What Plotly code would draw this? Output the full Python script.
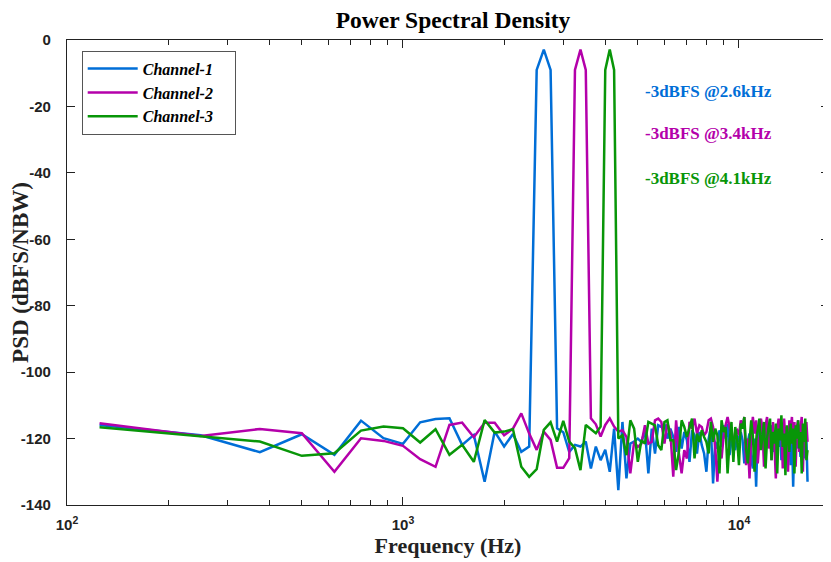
import plotly.graph_objects as go

# ---------------- data ----------------
bin_hz = 125
freqs = [bin_hz * k for k in range(1, 129)]

channel_1 = [
    -115.9, -119.0, -124.1, -118.7, -124.9, -114.6, -119.9, -121.6, -115.1, -114.1,
    -113.9, -121.9, -118.9, -133.0, -117.9, -122.4, -118.6, -124.0, -122.4, -9.0,
    -2.9, -9.0, -116.9, -118.1, -124.0, -121.9, -122.4, -120.9, -129.0, -122.4,
    -126.5, -123.4, -130.0, -117.0, -135.5, -115.0, -132.0, -121.5, -120.9, -120.0,
    -121.0, -117.5, -130.5, -117.0, -124.5, -116.0, -116.5, -115.5, -120.0, -117.0,
    -119.5, -124.0, -116.5, -123.0, -118.0, -120.5, -127.0, -117.5, -119.0, -124.5,
    -118.0, -122.0, -124.5, -130.0, -120.0, -116.5, -133.5, -121.0, -123.0, -117.5,
    -122.5, -116.0, -120.0, -115.5, -125.0, -120.5, -121.5, -123.5, -119.0, -121.0,
    -118.0, -120.5, -127.5, -122.0, -121.0, -118.5, -126.0, -129.0, -120.0, -134.5,
    -117.0, -121.5, -116.5, -119.0, -117.0, -115.5, -122.0, -120.5, -118.5, -116.0,
    -124.0, -119.5, -121.0, -117.5, -122.5, -115.5, -126.5, -121.0, -119.0, -124.5,
    -120.0, -122.0, -119.5, -128.0, -117.0, -134.5, -119.0, -121.5, -117.5, -123.0,
    -120.0, -125.5, -118.0, -121.5, -119.5, -126.0, -120.0, -133.0,
]

channel_2 = [
    -115.4, -119.2, -117.1, -118.4, -130.0, -119.9, -120.7, -122.2, -126.2, -128.5,
    -115.9, -115.2, -119.6, -115.2, -115.2, -119.0, -117.0, -112.4, -118.5, -123.4,
    -117.9, -120.4, -128.8, -128.8, -125.9, -9.0, -2.9, -9.0, -113.9, -115.7,
    -119.4, -115.9, -113.9, -116.4, -117.9, -117.5, -119.5, -130.5, -121.0, -122.5,
    -121.5, -116.0, -121.5, -121.0, -114.5, -114.0, -115.0, -121.5, -115.5, -118.0,
    -131.5, -114.5, -124.5, -130.5, -123.5, -126.0, -115.0, -117.0, -114.0, -118.5,
    -116.0, -116.5, -119.0, -118.0, -114.5, -114.0, -116.5, -122.5, -133.0, -123.0,
    -126.0, -119.5, -116.0, -113.5, -116.5, -119.5, -121.0, -118.0, -117.5, -119.0,
    -114.5, -116.5, -113.5, -128.0, -120.0, -132.0, -119.0, -113.5, -118.5, -114.5,
    -127.5, -120.5, -114.0, -117.0, -128.5, -116.0, -113.5, -123.0, -118.0, -126.5,
    -115.0, -121.5, -132.0, -117.0, -114.0, -119.5, -115.5, -129.0, -114.0, -120.5,
    -116.5, -130.0, -114.5, -118.0, -113.5, -122.0, -115.0, -128.5, -116.5, -114.5,
    -124.0, -117.0, -113.5, -130.0, -116.0, -119.5, -115.0, -121.0,
]

channel_3 = [
    -116.6, -119.4, -120.9, -125.2, -124.4, -117.6, -116.4, -116.9, -121.2, -117.2,
    -124.9, -121.9, -127.0, -114.4, -118.2, -117.9, -117.2, -128.5, -131.5, -129.2,
    -117.4, -115.1, -120.9, -114.7, -120.9, -122.9, -129.5, -115.9, -117.2, -118.4,
    -116.4, -9.0, -2.9, -9.0, -120.0, -119.0, -125.0, -114.5, -117.0, -127.0,
    -120.5, -121.5, -115.0, -115.5, -116.0, -122.0, -123.5, -115.0, -114.5, -120.5,
    -120.5, -129.5, -124.0, -114.5, -116.5, -119.5, -117.0, -114.0, -126.0, -118.5,
    -121.0, -117.5, -119.5, -121.0, -124.5, -115.0, -121.0, -117.0, -119.0, -130.5,
    -114.5, -118.0, -116.5, -130.5, -121.0, -115.0, -127.0, -116.5, -120.0, -128.0,
    -115.5, -117.0, -113.5, -123.0, -127.5, -120.5, -114.5, -119.0, -130.0, -120.5,
    -117.5, -114.0, -123.5, -118.5, -115.0, -129.0, -120.0, -116.5, -114.0, -126.5,
    -118.0, -121.5, -115.5, -130.5, -117.0, -120.5, -113.0, -122.5, -118.5, -131.0,
    -116.0, -119.0, -124.0, -115.5, -121.5, -117.0, -130.5, -116.0, -120.0, -114.5,
    -123.0, -118.0, -130.5, -115.5, -121.0, -114.0, -126.5, -123.5,
]

series_names = ["Channel-1", "Channel-2", "Channel-3"]
series_colors = ["#006ed7", "#b400aa", "#089608"]
note_texts = ["-3dBFS @2.6kHz", "-3dBFS @3.4kHz", "-3dBFS @4.1kHz"]
note_y = [0.889, 0.799, 0.703]

x_tick_vals = [100, 1000, 10000]
x_tick_text = ["10<sup>2</sup>", "10<sup>3</sup>", "10<sup>4</sup>"]
x_minor_vals = [m * d for d in (100, 1000, 10000) for m in range(2, 10)]
y_tick_vals = [0, -20, -40, -60, -80, -100, -120, -140]
y_tick_text = ["0", "-20", "-40", "-60", "-80", "-100", "-120", "-140"]

# ---------------- figure ----------------
# The page body keeps its default 8px margin, so the figure is drawn 8px
# smaller and its margins are reduced by 8px to land where the reference is.
serif = "Liberation Serif"
sans = "Liberation Sans"

fig = go.Figure()
for name, vals, col in zip(series_names, [channel_1, channel_2, channel_3], series_colors):
    fig.add_trace(go.Scatter(x=freqs, y=vals, mode="lines",
                             name=name + "\u2003",
                             line=dict(color=col, width=2.5)))

for txt, yy, col in zip(note_texts, note_y, series_colors):
    fig.add_annotation(text=txt, x=0.7563, y=yy, xref="paper", yref="paper",
                       xanchor="left", yanchor="middle", showarrow=False,
                       font=dict(family=serif, size=17, color=col, weight="bold"))

fig.update_layout(
    width=823, height=554,
    margin=dict(l=59, r=2, t=32, b=57, autoexpand=False),
    paper_bgcolor="white", plot_bgcolor="white",
    title=dict(text="Power Spectral Density", x=0.5407, xanchor="center",
               y=0.978, yanchor="middle",
               font=dict(family=serif, size=23.5, color="black", weight="bold")),
    legend=dict(x=0.0193, y=0.977, xanchor="left", yanchor="top",
                bgcolor="white", bordercolor="#555555", borderwidth=1,
                itemwidth=50,
                font=dict(family=serif, size=16, color="black",
                          style="italic", weight="bold"),
                tracegroupgap=0),
    showlegend=True,
)

fig.update_xaxes(
    type="log", range=[2, 4.268], automargin=False,
    tickvals=x_tick_vals, ticktext=x_tick_text,
    ticks="inside", ticklen=8, tickcolor="#222222", tickwidth=1,
    showline=True, linecolor="#222222", linewidth=1.3, mirror="allticks",
    showgrid=False, zeroline=False,
    tickfont=dict(family=sans, size=15, color="#222222", weight="bold"),
    ticklabelstandoff=6,
    minor=dict(tickvals=x_minor_vals, ticks="inside", ticklen=5,
               tickcolor="#222222", showgrid=False),
    title=dict(text="Frequency (Hz)", standoff=2,
               font=dict(family=serif, size=22, color="#222222", weight="bold")),
)

fig.update_yaxes(
    range=[-140, 0], automargin=False,
    tickvals=y_tick_vals, ticktext=y_tick_text,
    ticks="inside", ticklen=8, tickcolor="#222222", tickwidth=1,
    showline=True, linecolor="#222222", linewidth=1.3, mirror="allticks",
    showgrid=False, zeroline=False,
    tickfont=dict(family=sans, size=15, color="#222222", weight="bold"),
    ticklabelstandoff=12,
    title=dict(text="PSD (dBFS/NBW)", standoff=4,
               font=dict(family=serif, size=23, color="#222222", weight="bold")),
)

fig.write_html("out.html")
